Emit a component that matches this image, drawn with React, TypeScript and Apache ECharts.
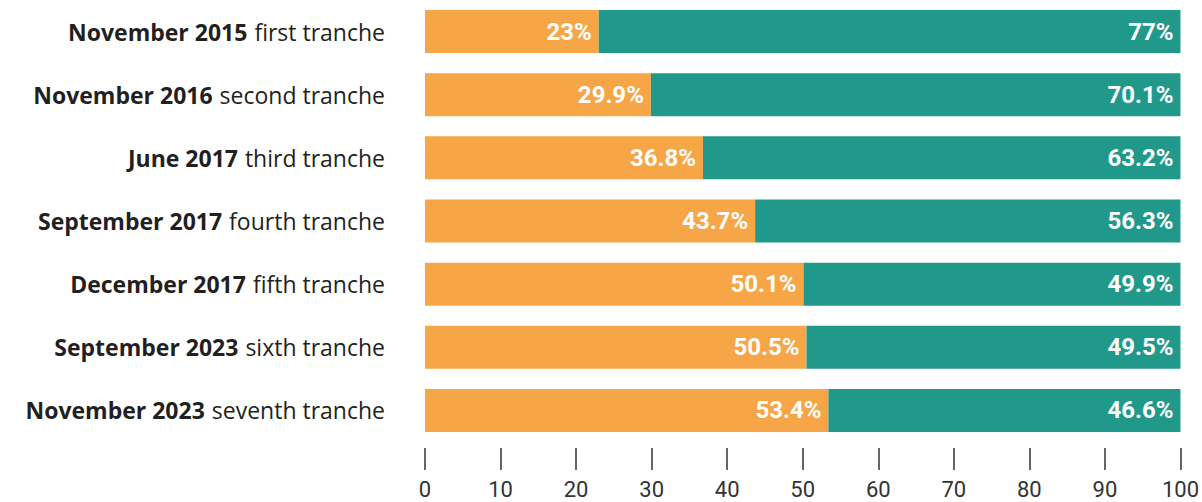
import React, { useEffect, useRef } from "react";
import * as echarts from "echarts";

const dates = ["November 2015", "November 2016", "June 2017", "September 2017", "December 2017", "September 2023", "November 2023"];
const tranches = ["first tranche", "second tranche", "third tranche", "fourth tranche", "fifth tranche", "sixth tranche", "seventh tranche"];
const orangeValues = [23, 29.9, 36.8, 43.7, 50.1, 50.5, 53.4];
const tealValues = [77, 70.1, 63.2, 56.3, 49.9, 49.5, 46.6];

export default function App() {
  const ref = useRef<HTMLDivElement>(null);
  useEffect(() => {
    const chart = echarts.init(ref.current!, null, { renderer: "svg" });
    const categories = dates.map((d, i) => `${d}|${tranches[i]}`);
    const valueLabel = {
      show: true,
      position: "insideRight",
      distance: 7,
      color: "#ffffff",
      fontFamily: "Roboto",
      fontWeight: "bold",
      fontSize: 24,
      formatter: (p: any) => `${p.value}%`,
    };
    chart.setOption({
      animation: false,
      grid: { left: 425, right: 21, top: 0, height: 442, containLabel: false },
      xAxis: {
        type: "value",
        min: 0,
        max: 100,
        interval: 10,
        offset: 6,
        axisLine: { show: false },
        splitLine: { show: false },
        axisTick: { show: true, length: 22, lineStyle: { color: "#333", width: 1.5 } },
        axisLabel: { margin: 30, fontFamily: "Roboto", fontSize: 22, color: "#333" },
      },
      yAxis: {
        type: "category",
        inverse: true,
        data: categories,
        axisLine: { show: false },
        axisTick: { show: false },
        axisLabel: {
          margin: 40,
          formatter: (v: string) => {
            const [d, t] = v.split("|");
            return `{b|${d}}{n|${t}}`;
          },
          rich: {
            b: { fontFamily: "Open Sans", fontWeight: "bold", fontSize: 23, color: "#231f20" },
            n: { fontFamily: "Open Sans", fontSize: 23, color: "#231f20", padding: [0, 0, 0, 7] },
          },
        },
      },
      series: [
        {
          type: "bar",
          stack: "s",
          data: orangeValues,
          barWidth: 43,
          itemStyle: { color: "#F7A647" },
          label: valueLabel,
        },
        {
          type: "bar",
          stack: "s",
          data: tealValues,
          barWidth: 43,
          itemStyle: { color: "#21998A" },
          label: valueLabel,
        },
      ],
    });
    return () => chart.dispose();
  }, []);
  return <div ref={ref} style={{ position: "absolute", left: 0, top: 0, width: 1202, height: 502 }} />;
}
